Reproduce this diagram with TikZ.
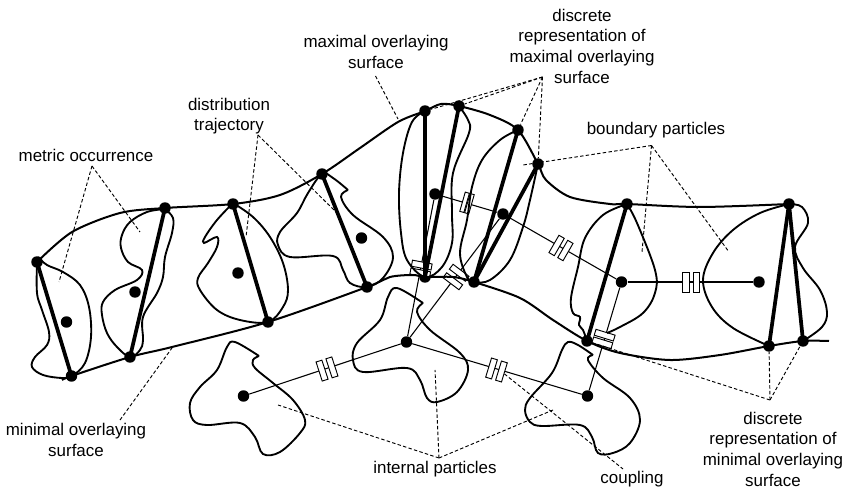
\documentclass[tikz,border=0pt]{standalone}
\usepackage{fontspec}
\setmainfont{Liberation Sans}
\usetikzlibrary{positioning, calc}
\tikzset{
    particle/.style={circle, fill=black, minimum size=8.6pt, inner sep=0pt},
    couplerbox/.style={rectangle, draw, fill=white, line width=0.7pt, minimum height=15pt, inner sep=0pt},
    surfaceline/.style={line width=1.5pt, smooth},
    blobline/.style={line width=1.4pt, smooth, tension=0.6},
    chord/.style={line width=2.8pt},
    linkline/.style={line width=0.8pt},
    leader/.style={line width=0.7pt, dash pattern=on 2.6pt off 1.7pt},
    lbl/.style={font=\fontsize{12.7}{15.5}\selectfont, align=center, inner sep=0pt},
}

\begin{document}
\begin{tikzpicture}[x=0.75pt, y=-0.75pt]
    \useasboundingbox (0,0) rectangle (847,488);

    % particles on the maximal surface
    \node[particle] (top1) at (37,262) {};
    \node[particle] (top2) at (165,208) {};
    \node[particle] (top3) at (233,204) {};
    \node[particle] (top4) at (322,174) {};
    \node[particle] (top5) at (425,111) {};
    \node[particle] (top6) at (459,106) {};
    \node[particle] (top7) at (518,130) {};
    \node[particle] (top8) at (538,164) {};
    \node[particle] (top9) at (627,204) {};
    \node[particle] (top10) at (789,204) {};

    % particles on the minimal surface
    \node[particle] (low1) at (71.5,376) {};
    \node[particle] (low2) at (130,357) {};
    \node[particle] (low3) at (268,322) {};
    \node[particle] (low4) at (367,287) {};
    \node[particle] (low5) at (425,277) {};
    \node[particle] (low6) at (474,282) {};
    \node[particle] (low7) at (587,341) {};
    \node[particle] (low8) at (769,346) {};
    \node[particle] (low9) at (803,341) {};

    % particles inside the occurrences
    \node[particle] (occ1) at (66.5,322) {};
    \node[particle] (occ2) at (135,292) {};
    \node[particle] (occ3) at (238,273) {};
    \node[particle] (occ4) at (361.5,238) {};
    \node[particle] (bnd1) at (435,194) {};
    \node[particle] (bnd2) at (503,214) {};
    \node[particle] (bnd3) at (621.5,282) {};
    \node[particle] (bnd4) at (759,282) {};
    \node[particle] (int1) at (243.5,396) {};
    \node[particle] (int2) at (406.5,342) {};
    \node[particle] (int3) at (587.5,396) {};

    % links between particles
    \draw[linkline] (int1) -- (int2);
    \draw[linkline] (int2) -- (int3);
    \draw[linkline] (int2) -- (bnd1);
    \draw[linkline] (int2) -- (bnd2);
    \draw[linkline] (bnd1) -- (bnd2);
    \draw[linkline] (bnd2) -- (bnd3);
    \draw[linkline] (bnd3) -- (bnd4);
    \draw[linkline] (bnd3) -- (int3);

    % couplings, two boxes on each link
    \foreach \nm/\cx/\cy/\ang/\gap/\bw in {ca/327/369/18/3.9/4.6, cb/496.5/370/-17/3.9/4.6,
        cc/467/203/-16/1.9/3.2, cd/561/248/-30/3.8/4.6, ce/691/282/0/3.8/4.6,
        cf/421/269/79/3/4.6, cg/456/277/53/4/4.6, ch/603.5/339/73/3/4.6} {
        \node[couplerbox, minimum width=\bw pt, rotate=\ang, xshift=-\gap pt] (\nm1) at (\cx,\cy) {};
        \node[couplerbox, minimum width=\bw pt, rotate=\ang, xshift=\gap pt] (\nm2) at (\cx,\cy) {};
    }

    % overlaying surfaces
    \draw[surfaceline] plot coordinates {(top1.center) (72,232) (120,213) (top2.center) (top3.center)
        (280,195) (top4.center) (360,148) (398,122) (top5.center) (441,104) (top6.center) (490,115) (top7.center)
        (top8.center) (546,180) (570,197) (610,204) (top9.center) (700,207) (top10.center)};
    \draw[surfaceline] plot coordinates {(62,380) (low1.center) (low2.center) (172,347) (low3.center) (low4.center)
        (390,277) (413,275) (low5.center) (453,277) (low6.center) (520,298) (553,320) (low7.center)
        (620,353) (670,360) (720,355) (low8.center) (low9.center) (829,341)};

    % metric occurrences
    \draw[blobline] plot coordinates {(38,257) (47,265) (63,272) (80,285) (89,307) (91,337) (85,363) (72,376)
        (62,378) (43,375) (32,367) (35,357) (47,345) (49,332) (42,310) (37,293) (37,263)};
    \draw[blobline] plot coordinates {(165,209) (147,212) (130,222) (122,235) (121,248) (128,262) (142,270) (137,280)
        (115,290) (103,302) (102,315) (107,333) (117,347) (130,357) (140,350) (143,340) (143,317) (157,293)
        (163,277) (165,257) (172,233) (173,218) (165,209)};
    \draw[blobline] plot coordinates {(233,203) (217,220) (205,237) (204,243) (217,237) (217,247) (208,263) (198,278)
        (200,290) (217,310) (240,320) (268,322) (283,307) (288,290) (283,263) (270,237) (253,217) (233,203)};
    \draw[blobline] plot coordinates {(348,190) (333,178) (322,174) (308,193) (297,213) (280,232) (278,245) (290,257)
        (333,256) (343,270) (350,283) (367,287) (383,278) (393,257) (383,237) (353,215) (341,197) (348,190)};
    \draw[blobline] plot coordinates {(425,111) (412,122) (403,153) (399,193) (401,233) (407,260) (425,277) (442,267)
        (452,243) (452,213) (453,173) (469,133) (468,120) (459,106)};
    \draw[blobline] plot coordinates {(518,130) (500,140) (482,160) (472,187) (467,220) (460,253) (467,277) (474,282)
        (490,280) (510,260) (523,227) (530,200) (538,164)};
    \draw[blobline] plot coordinates {(627,204) (603,215) (585,238) (578,267) (571,298) (573,313) (580,317) (579,325)
        (583,330) (587,341)};
    \draw[blobline] plot coordinates {(627,204) (637,223) (655,270) (655,293) (643,313) (620,327) (607,333)};
    \draw[blobline] plot coordinates {(789,204) (760,213) (733,230) (713,253) (703,280) (712,307) (733,328) (769,346)};
    \draw[blobline] plot coordinates {(803,341) (822,327) (827,312) (820,290) (803,268) (795,247) (808,223) (802,207) (789,204)};

    % internal particles outlines
    \draw[blobline] plot coordinates {(259,356) (235,342) (227,347) (217,370) (200,387) (190,403) (193,420) (207,425)
        (240,423) (255,437) (263,454) (280,452) (300,433) (305,420) (293,400) (273,383) (255,368) (253,360) (259,356)};
    \draw[blobline] plot coordinates {(423,303) (397,288) (388,297) (380,320) (357,343) (353,360) (363,372) (407,368)
        (420,380) (427,398) (437,402) (457,392) (468,370) (460,353) (430,330) (417,312) (423,303)};
    \draw[blobline] plot coordinates {(593,355) (578,345) (568,342) (562,350) (552,373) (530,398) (525,410) (530,422) (542,426)
        (580,425) (592,437) (598,453) (613,453) (630,443) (640,420) (630,398) (603,378) (588,360) (593,355)};

    % discrete representation
    \draw[chord] (top1.center) -- (low1.center);
    \draw[chord] (top2.center) -- (low2.center);
    \draw[chord] (top3.center) -- (low3.center);
    \draw[chord] (top4.center) -- (low4.center);
    \draw[chord] (top5.center) -- (low5.center);
    \draw[chord] (top6.center) -- (low5.center);
    \draw[chord] (top7.center) -- (low6.center);
    \draw[chord] (top8.center) -- (low6.center);
    \draw[chord] (top9.center) -- (low7.center);
    \draw[chord] (top10.center) -- (low8.center);
    \draw[chord] (top10.center) -- (low9.center);

    % labels
    \node[lbl] (metricLbl) at (86,155) {metric occurrence};
    \node[lbl] (trajLbl) at (229,116) {distribution\\trajectory};
    \node[lbl] (maxLbl) at (376,52) {maximal overlaying\\surface};
    \node[lbl] (discMaxLbl) at (582,46) {discrete\\representation of\\maximal overlaying\\surface};
    \node[lbl] (boundLbl) at (656,130) {boundary particles};
    \node[lbl] (minLbl) at (76,440) {minimal overlaying\\surface};
    \node[lbl] (intLbl) at (435,469) {internal particles};
    \node[lbl] (couplingLbl) at (632,479) {coupling};
    \node[lbl] (discMinLbl) at (773,449) {discrete\\representation of\\minimal overlaying\\surface};

    % leader lines
    \coordinate (metricApex) at (92,166);
    \coordinate (trajApex) at (258,135);
    \coordinate (discMaxApex) at (542.5,77);
    \coordinate (boundApex) at (651.5,145.5);
    \coordinate (intApex) at (439,458);
    \coordinate (discMinApex) at (770,400);
    \coordinate (maxStart) at (375.5,76);
    \coordinate (maxEnd) at (398,119);
    \coordinate (minStart) at (120,420);
    \coordinate (minEnd) at (172,348);
    \coordinate (couplingEnd) at (623,469);
    \coordinate (metricTip1) at (59,282);
    \coordinate (metricTip2) at (140,232);
    \coordinate (trajTip1) at (246,237);
    \coordinate (trajTip2) at (336,212);
    \coordinate (boundTip1) at (523,165);
    \coordinate (boundTip2) at (642,252);
    \coordinate (boundTip3) at (729,252);
    \coordinate (intTip1) at (278,405);
    \coordinate (intTip2) at (435,370);
    \coordinate (intTip3) at (553,410);

    \draw[leader] (metricApex) -- (metricTip1);
    \draw[leader] (metricApex) -- (metricTip2);
    \draw[leader] (trajApex) -- (trajTip1);
    \draw[leader] (trajApex) -- (trajTip2);
    \draw[leader] (maxStart) -- (maxEnd);
    \draw[leader] (minStart) -- (minEnd);
    \draw[leader] (discMaxApex) -- (top5);
    \draw[leader] (discMaxApex) -- (top6);
    \draw[leader] (discMaxApex) -- (top7);
    \draw[leader] (discMaxApex) -- (top8);
    \draw[leader] (boundApex) -- (boundTip1);
    \draw[leader] (boundApex) -- (boundTip2);
    \draw[leader] (boundApex) -- (boundTip3);
    \draw[leader] (intApex) -- (intTip1);
    \draw[leader] (intApex) -- (intTip2);
    \draw[leader] (intApex) -- (intTip3);
    \draw[leader] (cb2) -- (couplingEnd);
    \draw[leader] (discMinApex) -- (low7);
    \draw[leader] (discMinApex) -- (low8);
    \draw[leader] (discMinApex) -- (low9);

\end{tikzpicture}
\end{document}
